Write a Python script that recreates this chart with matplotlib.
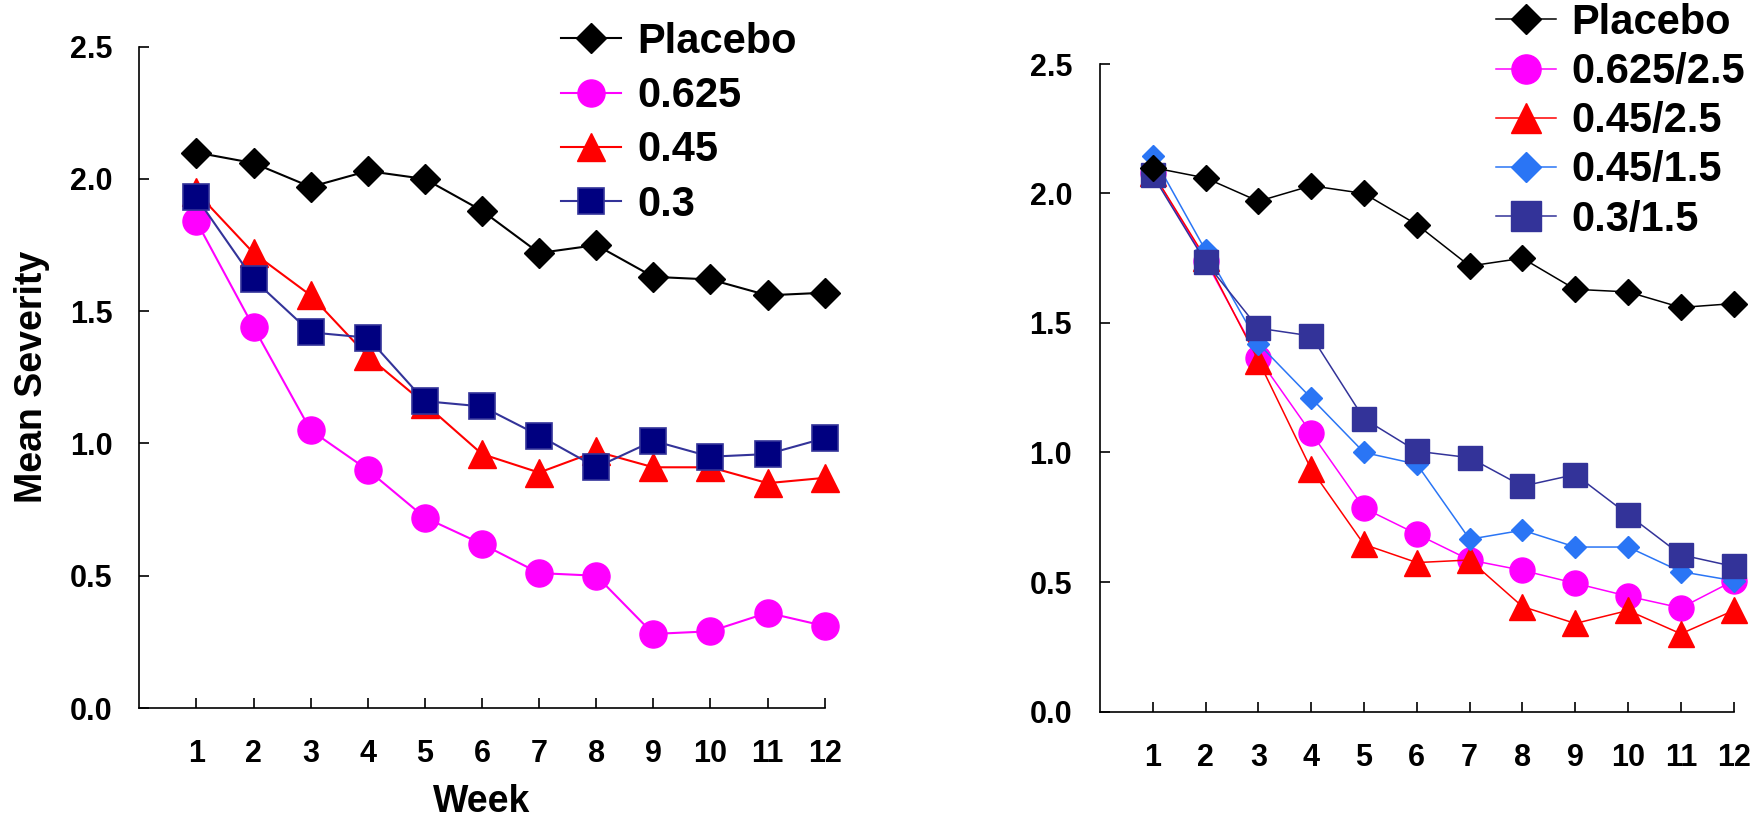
import matplotlib
matplotlib.use("Agg")
import matplotlib.pyplot as plt

plt.rcParams["font.family"] = ["Liberation Sans", "DejaVu Sans"]
plt.rcParams["font.weight"] = "bold"

weeks = list(range(1, 13))
week_labels = [str(w) for w in weeks]
y_ticks = [0.0, 0.5, 1.0, 1.5, 2.0, 2.5]

# left panel
left_names = ["Placebo", "0.625", "0.45", "0.3"]
placebo_a = [2.10, 2.06, 1.97, 2.03, 2.00, 1.88, 1.72, 1.75, 1.63, 1.62, 1.56, 1.57]
dose_0625 = [1.84, 1.44, 1.05, 0.90, 0.72, 0.62, 0.51, 0.50, 0.28, 0.29, 0.36, 0.31]
dose_045 = [1.95, 1.72, 1.56, 1.33, 1.15, 0.96, 0.89, 0.97, 0.91, 0.91, 0.85, 0.87]
dose_03 = [1.93, 1.62, 1.42, 1.40, 1.16, 1.14, 1.03, 0.91, 1.01, 0.95, 0.96, 1.02]

# right panel
right_names = ["Placebo", "0.625/2.5", "0.45/2.5", "0.45/1.5", "0.3/1.5"]
placebo_b = [2.10, 2.06, 1.97, 2.03, 2.00, 1.88, 1.72, 1.75, 1.63, 1.62, 1.56, 1.575]
combo_0625_25 = [2.08, 1.74, 1.365, 1.075, 0.785, 0.685, 0.585, 0.545, 0.495, 0.445, 0.40, 0.505]
combo_045_25 = [2.08, 1.75, 1.355, 0.935, 0.645, 0.575, 0.585, 0.405, 0.34, 0.39, 0.30, 0.39]
combo_045_15 = [2.145, 1.78, 1.42, 1.21, 1.00, 0.955, 0.665, 0.70, 0.635, 0.635, 0.54, 0.505]
combo_03_15 = [2.07, 1.735, 1.48, 1.45, 1.13, 1.005, 0.98, 0.87, 0.915, 0.76, 0.605, 0.56]

W, H = 1765, 821
fig = plt.figure(figsize=(W / 100, H / 100), dpi=100)

ax1 = fig.add_axes([139.3 / W, 1 - 708 / H, (824.7 - 139.3) / W, (708 - 46.7) / H])
ax2 = fig.add_axes([1100 / W, 1 - 711.5 / H, (1733.7 - 1100) / W, (711.5 - 64) / H])


def style_axes(ax, xpad, ypad):
    ax.set_xlim(0, 12)
    ax.set_ylim(0, 2.5)
    ax.set_xticks(weeks)
    ax.set_xticklabels(week_labels)
    ax.set_yticks(y_ticks)
    ax.set_yticklabels([f"{v:.1f}" for v in y_ticks])
    for s in ["top", "right"]:
        ax.spines[s].set_visible(False)
    for s in ["left", "bottom"]:
        ax.spines[s].set_linewidth(1.2)
    ax.tick_params(direction="in", length=7.2, width=1.2, labelsize=22)
    ax.tick_params(axis="x", pad=xpad)
    ax.tick_params(axis="y", pad=ypad)
    for lab in ax.get_xticklabels() + ax.get_yticklabels():
        lab.set_fontweight("bold")


# left chart
ax1.plot(weeks, placebo_a, color="black", lw=1.5, marker="D", ms=15,
         mfc="black", mec="black", label=left_names[0], clip_on=False)
ax1.plot(weeks, dose_0625, color="#ff00ff", lw=1.5, marker="o", ms=19.5,
         mfc="#ff00ff", mec="#ff00ff", label=left_names[1], clip_on=False)
ax1.plot(weeks, dose_045, color="#ff0000", lw=1.5, marker="^", ms=20.5,
         mfc="#ff0000", mec="#ff0000", label=left_names[2], clip_on=False)
ax1.plot(weeks, dose_03, color="#333399", lw=1.5, marker="s", ms=18.5,
         mfc="#000080", mec="#333399", mew=1.2, label=left_names[3], clip_on=False)
style_axes(ax1, 22.6, 19.4)
ax1.set_ylabel("Mean Severity", fontsize=27, fontweight="bold", labelpad=14)
ax1.set_xlabel("Week", fontsize=27, fontweight="bold", labelpad=10.5)

leg1 = ax1.legend(loc="upper left", bbox_to_anchor=(560.7 / W, 1 - 22 / H),
                  bbox_transform=fig.transFigure, frameon=False, borderpad=0,
                  borderaxespad=0, fontsize=30, handlelength=1.44,
                  handletextpad=0.4, labelspacing=0.34)

# right chart
ax2.plot(weeks, placebo_b, color="black", lw=1.1, marker="D", ms=13.5,
         mfc="black", mec="black", label=right_names[0], zorder=6, clip_on=False)
ax2.plot(weeks, combo_0625_25, color="#ff00ff", lw=1.1, marker="o", ms=18,
         mfc="#ff00ff", mec="#ff00ff", label=right_names[1], zorder=2, clip_on=False)
ax2.plot(weeks, combo_045_25, color="#ff0000", lw=1.1, marker="^", ms=18.5,
         mfc="#ff0000", mec="#ff0000", label=right_names[2], zorder=3, clip_on=False)
ax2.plot(weeks, combo_045_15, color="#2a75f5", lw=1.1, marker="D", ms=11.5,
         mfc="#2a75f5", mec="#2a75f5", label=right_names[3], zorder=4, clip_on=False)
ax2.plot(weeks, combo_03_15, color="#333399", lw=1.1, marker="s", ms=17,
         mfc="#333399", mec="#333399", label=right_names[4], zorder=5, clip_on=False)
style_axes(ax2, 23, 20)

leg2 = ax2.legend(loc="upper left", bbox_to_anchor=(1495.7 / W, 1 - 3 / H),
                  bbox_transform=fig.transFigure, frameon=False, borderpad=0,
                  borderaxespad=0, fontsize=30, handlelength=1.44,
                  handletextpad=0.38, labelspacing=0.22)
for h in leg2.legend_handles:
    h.set_markersize(21 if h.get_marker() != "D" else 15)

for leg in (leg1, leg2):
    for t in leg.get_texts():
        t.set_fontweight("bold")

fig.savefig("out.png", dpi=100)
